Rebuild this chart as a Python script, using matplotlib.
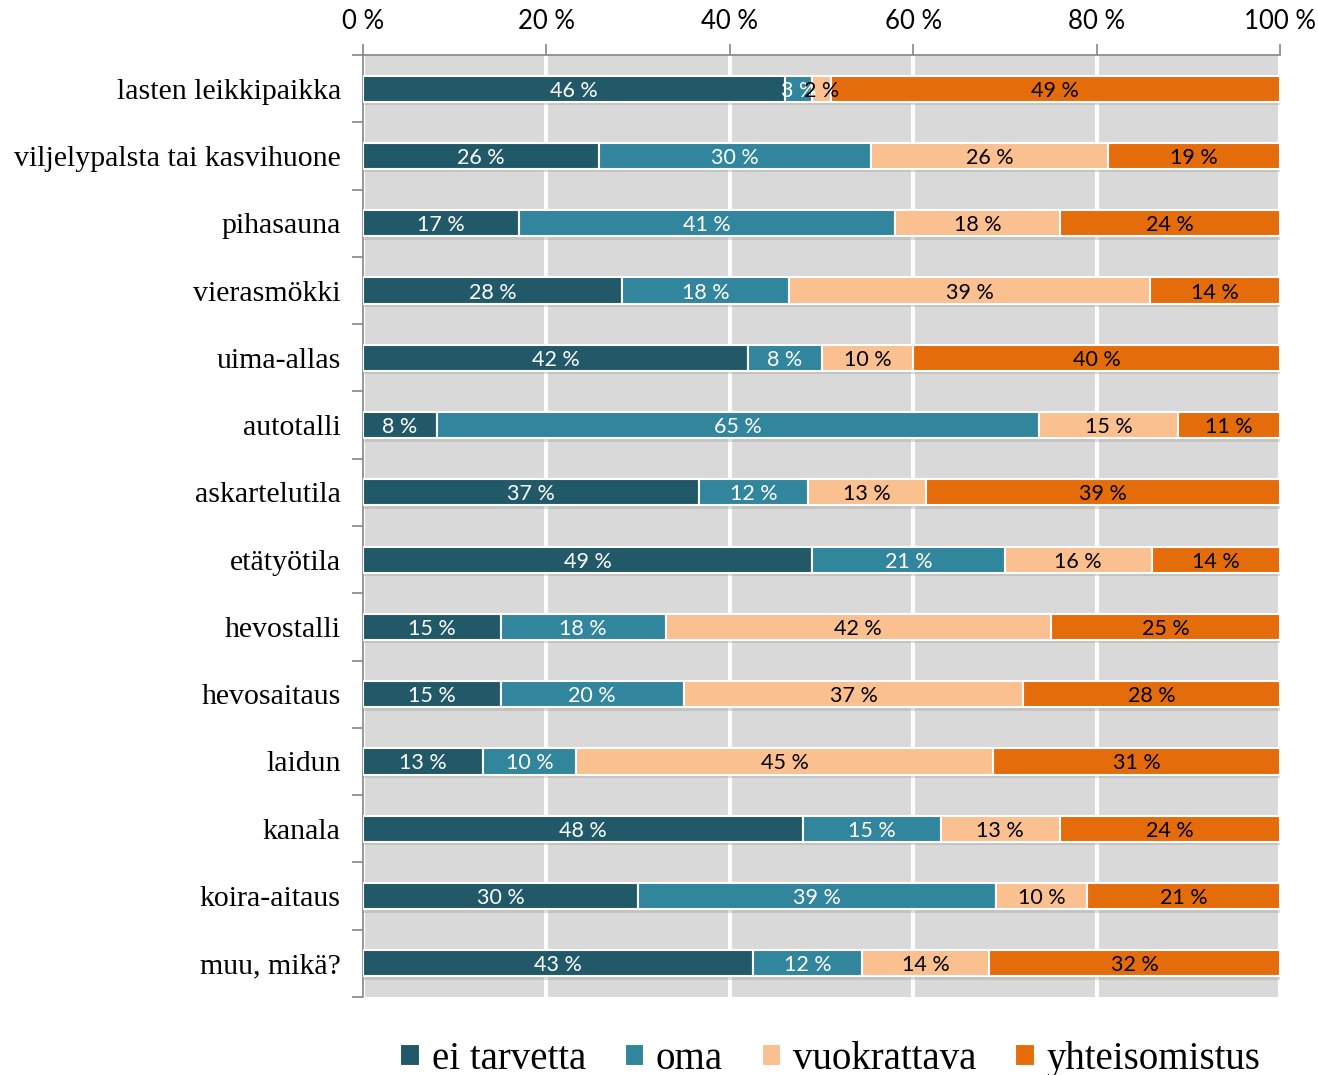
import numpy as np
import matplotlib
matplotlib.use("Agg")
import matplotlib.pyplot as plt

# Categories (top to bottom) and the rounded percentages shown on the bars
categories = ["lasten leikkipaikka", "viljelypalsta tai kasvihuone", "pihasauna",
              "vierasmökki", "uima-allas", "autotalli", "askartelutila",
              "etätyötila", "hevostalli", "hevosaitaus", "laidun", "kanala",
              "koira-aitaus", "muu, mikä?"]
ei_tarvetta = [46, 26, 17, 28, 42, 8, 37, 49, 15, 15, 13, 48, 30, 43]
oma = [3, 30, 41, 18, 8, 65, 12, 21, 18, 20, 10, 15, 39, 12]
vuokrattava = [2, 26, 18, 39, 10, 15, 13, 16, 42, 37, 45, 13, 10, 14]
yhteisomistus = [49, 19, 24, 14, 40, 11, 39, 14, 25, 28, 31, 24, 21, 32]
series_names = ["ei tarvetta", "oma", "vuokrattava", "yhteisomistus"]
xticks = [0, 20, 40, 60, 80, 100]

colors = ["#215968", "#31859C", "#FAC090", "#E46C0A"]
label_colors = ["white", "white", "black", "black"]

serif = ["Liberation Serif", "DejaVu Serif"]
sans = ["Lato", "DejaVu Sans"]

data = np.array([ei_tarvetta, oma, vuokrattava, yhteisomistus], dtype=float)
# 100 % stacked: scale each row to its total
shares = data / data.sum(axis=0) * 100

fig = plt.figure(figsize=(13.18, 10.75), dpi=100)
ax = fig.add_axes([0.2754, 0.0726, 0.6958, 0.8762])
ax.set_facecolor("#D9D9D9")

y = np.arange(len(categories))
h = 0.39

# faint drop shadow under each bar
ax.barh(y + 0.05, 100, height=h, left=0, color="#9a9a9a", alpha=0.35, zorder=2)

left = np.zeros(len(categories))
for i, name in enumerate(series_names):
    bars = ax.barh(y, shares[i], height=h, left=left, color=colors[i],
                   edgecolor="white", linewidth=1.5, label=name, zorder=3)
    labels = ["%d %%" % v for v in data[i]]
    txts = ax.bar_label(bars, labels=labels, label_type="center", color=label_colors[i],
                        fontsize=15.5, family=sans, zorder=4)
    for t in txts:
        t.set_va("center_baseline")
    left += shares[i]

ax.set_xlim(0, 100)
ax.set_ylim(len(categories) - 0.5, -0.5)

ax.xaxis.tick_top()
ax.set_xticks(xticks)
ax.set_xticklabels(["%d %%" % t for t in xticks], fontsize=18.5, family=sans)
ax.tick_params(axis="x", direction="out", length=8, width=1.2, color="#868686", pad=7)
ax.grid(axis="x", color="white", linewidth=3, zorder=1)
ax.set_axisbelow(True)

ax.set_yticks(y)
ax.set_yticklabels(categories, fontsize=21.5, family=serif)
ax.set_yticks(np.arange(-0.5, len(categories)), minor=True)
ax.tick_params(axis="y", which="major", length=0, pad=16)
ax.tick_params(axis="y", which="minor", direction="out", length=8, width=1.2, color="#868686")

for side in ["right", "bottom"]:
    ax.spines[side].set_visible(False)
for side in ["left", "top"]:
    ax.spines[side].set_color("#868686")
    ax.spines[side].set_linewidth(1.2)

fig.legend(loc="lower center", bbox_to_anchor=(0.63, -0.035), ncol=4, frameon=False,
           prop={"family": serif, "size": 28}, handlelength=0.5, handleheight=0.5,
           handletextpad=0.3, columnspacing=1.0)

fig.savefig("out.png", dpi=100)
